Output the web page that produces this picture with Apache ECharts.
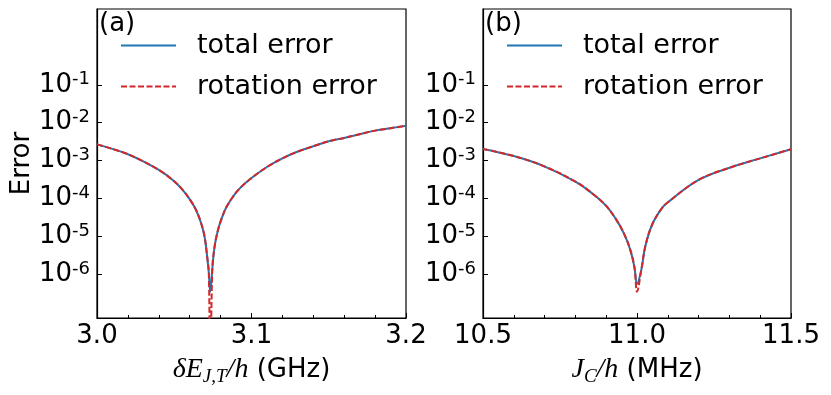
<!DOCTYPE html>
<html>
<head>
<meta charset="utf-8">
<script src="https://cdn.jsdelivr.net/npm/echarts@6/dist/echarts.min.js"></script>
<style>html,body{margin:0;padding:0;background:#fff;}#c{width:831px;height:395px;}</style>
</head>
<body>
<div id="c"></div>
<script>
// Panel (a): detuning delta E_{J,T}/h (GHz)
const xA = [3.000, 3.010, 3.020, 3.029, 3.040, 3.049, 3.0554, 3.0604, 3.0641, 3.0674, 3.0696, 3.0713, 3.0724, 3.0733, 3.0746, 3.0761, 3.0783, 3.0807, 3.0837, 3.088, 3.0924, 3.100, 3.110, 3.120, 3.130, 3.140, 3.150, 3.160, 3.170, 3.180, 3.190, 3.200];
const totalA = [2.69e-3, 2.04e-3, 1.48e-3, 1.0e-3, 5.68e-4, 3.09e-4, 1.70e-4, 9.1e-5, 5.0e-5, 2.24e-5, 1.0e-5, 2.95e-6, 1.07e-6, 3.55e-7, 1.32e-6, 5.4e-6, 1.48e-5, 3.0e-5, 5.9e-5, 1.12e-4, 1.86e-4, 3.47e-4, 6.8e-4, 1.15e-3, 1.74e-3, 2.4e-3, 3.24e-3, 3.98e-3, 5.0e-3, 6.2e-3, 7.2e-3, 8.3e-3];
const rotA = [2.69e-3, 2.04e-3, 1.48e-3, 1.0e-3, 5.68e-4, 3.09e-4, 1.70e-4, 9.1e-5, 5.0e-5, 2.24e-5, 1.0e-5, 2.95e-6, 1.07e-6, 1.0e-9, 1.32e-6, 5.4e-6, 1.48e-5, 3.0e-5, 5.9e-5, 1.12e-4, 1.86e-4, 3.47e-4, 6.8e-4, 1.15e-3, 1.74e-3, 2.4e-3, 3.24e-3, 3.98e-3, 5.0e-3, 6.2e-3, 7.2e-3, 8.3e-3];
// Panel (b): coupling J_C/h (MHz)
const xB = [10.50, 10.60, 10.697, 10.80, 10.854, 10.897, 10.93, 10.957, 10.978, 10.992, 11.000, 11.014, 11.027, 11.049, 11.081, 11.103, 11.20, 11.303, 11.40, 11.50];
const totalB = [2.04e-3, 1.32e-3, 7.2e-4, 2.8e-4, 1.38e-4, 6.8e-5, 3.0e-5, 1.23e-5, 4.5e-6, 1.48e-6, 5.6e-7, 1.32e-6, 5.5e-6, 2.04e-5, 5.6e-5, 8.3e-5, 3.1e-4, 6.6e-4, 1.15e-3, 2.0e-3];
const rotB = [2.04e-3, 1.32e-3, 7.2e-4, 2.8e-4, 1.38e-4, 6.8e-5, 3.0e-5, 1.23e-5, 4.5e-6, 1.48e-6, 3.5e-7, 1.32e-6, 5.5e-6, 2.04e-5, 5.6e-5, 8.3e-5, 3.1e-4, 6.6e-4, 1.15e-3, 2.0e-3];
// Tick labels (decade exponents)
const yTickExps = [-6, -5, -4, -3, -2, -1];
const seriesNames = ['total error', 'rotation error'];
const panelLabels = ['(a)', '(b)'];

const FONT = 'DejaVu Sans';
const toPts = (xs, ys) => xs.map((x, i) => [x, Math.log10(ys[i])]);

function yAxis(gi, withName) {
  return {
    type: 'value', gridIndex: gi, min: -7.15, max: 1,
    splitLine: {show: false},
    axisLine: {show: true, onZero: false, lineStyle: {color: '#000', width: 1.2}},
    axisTick: {show: true, inside: true, length: 5, customValues: yTickExps, lineStyle: {color: '#000'}},
    axisLabel: {
      customValues: yTickExps, margin: 7, fontFamily: FONT,
      formatter: v => '{b|10}{s|' + Math.round(v) + '}',
      rich: {
        b: {fontSize: 26, lineHeight: 29, color: '#000', fontFamily: FONT},
        s: {fontSize: 18, lineHeight: 18, verticalAlign: 'top', color: '#000', fontFamily: FONT}
      }
    },
    name: withName ? 'Error' : '', nameLocation: 'middle', nameGap: 60,
    nameTextStyle: {fontSize: 26, fontFamily: FONT, color: '#000'}
  };
}
function xAxis(gi, mn, mx, iv, name, rich) {
  return {
    type: 'value', gridIndex: gi, min: mn, max: mx, interval: iv,
    splitLine: {show: false},
    axisLine: {show: true, onZero: false, lineStyle: {color: '#000', width: 1.2}},
    axisTick: {show: true, inside: true, length: 5, lineStyle: {color: '#000'}},
    minorTick: {show: true, splitNumber: 5, length: 3, lineStyle: {color: '#000'}},
    axisLabel: {fontSize: 26, fontFamily: FONT, color: '#000', margin: 5,
      formatter: v => v.toFixed(1)},
    name: name, nameLocation: 'middle', nameGap: 36,
    nameTextStyle: {rich: rich}
  };
}
const mathRich = {
  m: {fontFamily: 'Liberation Serif', fontStyle: 'italic', fontSize: 28, lineHeight: 32, color: '#000'},
  sub: {fontFamily: 'Liberation Serif', fontStyle: 'italic', fontSize: 19, lineHeight: 19, verticalAlign: 'bottom', color: '#000'},
  t: {fontFamily: FONT, fontSize: 26, lineHeight: 32, color: '#000'}
};

function lineSeries(name, xi, yi, data, color, dashed) {
  return {
    name: name, type: 'line', xAxisIndex: xi, yAxisIndex: yi, data: data,
    showSymbol: false, symbol: 'none', clip: true, animation: false, smooth: 0.4,
    lineStyle: {color: color, width: 2, type: dashed ? [6, 2.5] : 'solid'},
    itemStyle: {color: color}
  };
}
const legendBase = {
  orient: 'vertical', itemWidth: 55, itemHeight: 14, itemGap: 10, top: 25,
  data: seriesNames,
  itemStyle: {opacity: 0},
  textStyle: {fontSize: 27, fontFamily: FONT, color: '#000', lineHeight: 31, padding: [0, 0, 0, 16]}
};

const option = {
  backgroundColor: '#fff',
  animation: false,
  title: [
    {text: panelLabels[0], left: 94, top: 6, textStyle: {fontSize: 26, fontWeight: 'normal', fontFamily: FONT, color: '#000'}},
    {text: panelLabels[1], left: 480, top: 6, textStyle: {fontSize: 26, fontWeight: 'normal', fontFamily: FONT, color: '#000'}}
  ],
  grid: [
    {left: 97, top: 9, width: 309, height: 309, show: true, borderColor: '#000', borderWidth: 1.2, backgroundColor: 'transparent'},
    {left: 483, top: 9, width: 308, height: 309, show: true, borderColor: '#000', borderWidth: 1.2, backgroundColor: 'transparent'}
  ],
  legend: [
    Object.assign({}, legendBase, {left: 115}),
    Object.assign({}, legendBase, {left: 501})
  ],
  xAxis: [
    xAxis(0, 3.0, 3.2, 0.1, '{m|δE}{sub|J,T}{m|/h}{t| (GHz)}', mathRich),
    xAxis(1, 10.5, 11.5, 0.5, '{m|J}{sub|C}{m|/h}{t| (MHz)}', mathRich)
  ],
  yAxis: [yAxis(0, true), yAxis(1, false)],
  series: [
    lineSeries(seriesNames[0], 0, 0, toPts(xA, totalA), '#1f77b4', false),
    lineSeries(seriesNames[1], 0, 0, toPts(xA, rotA), '#d62728', true),
    lineSeries(seriesNames[0], 1, 1, toPts(xB, totalB), '#1f77b4', false),
    lineSeries(seriesNames[1], 1, 1, toPts(xB, rotB), '#d62728', true)
  ]
};
const chart = echarts.init(document.getElementById('c'), null, {renderer: 'canvas'});
chart.setOption(option);
</script>
</body>
</html>
